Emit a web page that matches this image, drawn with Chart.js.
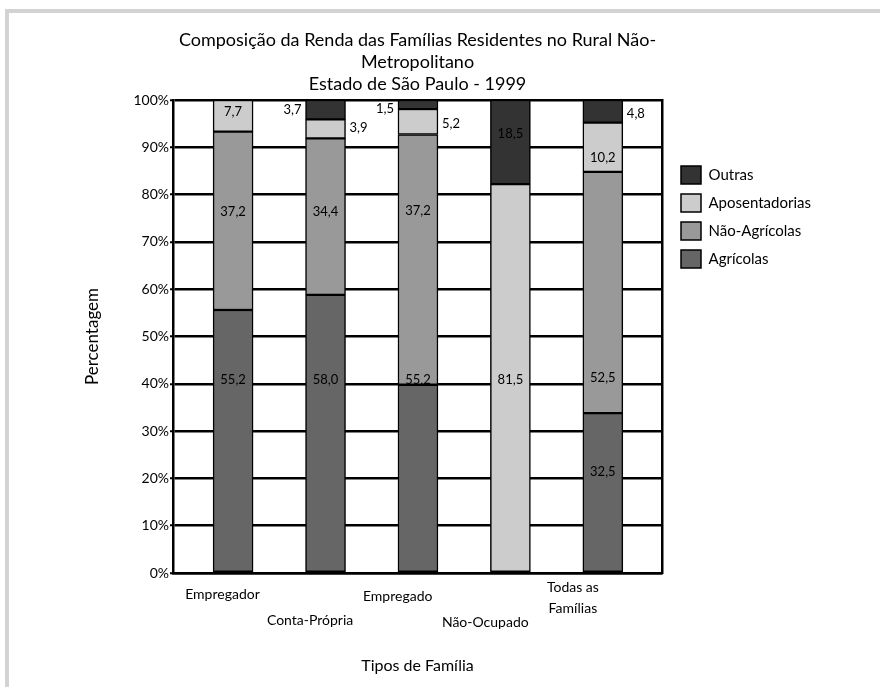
<!DOCTYPE html>
<html><head><meta charset="utf-8">
<script src="https://cdn.jsdelivr.net/npm/chart.js@4.4.1/dist/chart.umd.min.js"></script>
<style>
html,body{margin:0;padding:0;background:#fff;}
#wrap{position:relative;width:880px;height:687px;overflow:hidden;}
#frame{position:absolute;left:5px;top:9px;width:900px;height:700px;border-top:4px solid #d3d3d3;border-left:4px solid #d3d3d3;}
#box{position:absolute;left:0;top:0;width:880px;height:687px;}
</style></head><body>
<div id="wrap"><div id="frame"></div><div id="box"><canvas id="c"></canvas></div></div>
<script>
// ---- data ----
const categories = ['Empregador', 'Conta-Própria', 'Empregado', 'Não-Ocupado', ['Todas as', 'Famílias']];
const seriesNames = ['Agrícolas', 'Não-Agrícolas', 'Aposentadorias', 'Outras'];
// drawn segment heights (%)
const agricolas      = [55.6, 58.8, 39.8, 0,    33.8];
const naoAgricolas   = [37.7, 33.1, 52.9, 0,    51.0];
const aposentadorias = [6.7,  4.0,  5.4,  82.2, 10.4];
const outras         = [0,    4.1,  1.9,  17.8, 4.8];
// printed value labels
const textAgricolas      = ['55,2', '58,0', '55,2', '',     '32,5'];
const textNaoAgricolas   = ['37,2', '34,4', '37,2', '',     '52,5'];
const textAposentadorias = ['7,7',  '3,9',  '5,2',  '81,5', '10,2'];
const textOutras         = ['',     '3,7',  '1,5',  '18,5', '4,8'];
const yTicks = [0, 10, 20, 30, 40, 50, 60, 70, 80, 90, 100];

// ---- label placement (value-axis anchor, side of bar) ----
const labelPlacement = [
  [[40.8,'c'], [40.8,'c'], [40.8,'c'], null, [21.4,'c']],
  [[76.3,'c'], [76.3,'c'], [76.5,'c'], null, [41.2,'c']],
  [[97.5,'c'], [94.1,'r'], [94.9,'r'], [40.8,'c'], [87.7,'c']],
  [null, [97.9,'l'], [98.1,'l'], [92.8,'c'], [97.0,'r']]
];
const colors = ['#666666', '#999999', '#cccccc', '#333333'];
const seriesValues = [agricolas, naoAgricolas, aposentadorias, outras];
const seriesTexts = [textAgricolas, textNaoAgricolas, textAposentadorias, textOutras];

Chart.defaults.font.family = 'Lato, "Open Sans", sans-serif';
Chart.defaults.color = '#000';

const segLabels = {
  id: 'segLabels',
  afterDatasetsDraw(chart) {
    const ctx = chart.ctx, ys = chart.scales.y;
    ctx.save();
    ctx.font = '13px Lato';
    ctx.fillStyle = '#000';
    ctx.textBaseline = 'middle';
    chart.data.datasets.forEach((ds, di) => {
      const meta = chart.getDatasetMeta(di);
      ds.segText.forEach((t, i) => {
        const p = labelPlacement[di][i];
        if (!t || !p) return;
        const bar = meta.data[i];
        const half = bar.width / 2;
        const py = ys.getPixelForValue(p[0]);
        if (p[1] === 'l') { ctx.textAlign = 'right'; ctx.fillText(t, bar.x - half - 4, py); }
        else if (p[1] === 'r') { ctx.textAlign = 'left'; ctx.fillText(t, bar.x + half + 4, py); }
        else { ctx.textAlign = 'center'; ctx.fillText(t, bar.x, py); }
      });
    });
    ctx.restore();
  }
};

const legendPlace = {
  id: 'legendPlace',
  afterLayout(chart) {
    const lg = chart.legend;
    if (!lg) return;
    const dx = 671 - lg.left, dy = 156 - lg.top;
    lg.left += dx; lg.right += dx; lg.top += dy; lg.bottom += dy;
  }
};

const tickLineHeights = [35, 87, 39, 91, 21];

new Chart(document.getElementById('c'), {
  type: 'bar',
  data: {
    datasets: seriesNames.map((name, di) => ({
      label: name,
      data: seriesValues[di].map((v, i) => ({ x: i, y: v })),
      segText: seriesTexts[di],
      backgroundColor: colors[di],
      borderColor: '#000',
      borderWidth: 1.5,
      borderSkipped: false,
      barThickness: 40,
      xAxisID: 'x',
      yAxisID: 'y'
    }))
  },
  options: {
    responsive: true,
    maintainAspectRatio: false,
    animation: false,
    layout: { padding: { top: 29, left: 0, right: 218, bottom: 0 } },
    plugins: {
      tooltip: { enabled: false },
      title: {
        display: true,
        fullSize: false,
        text: ['Composição da Renda das Famílias Residentes no Rural Não-', 'Metropolitano', 'Estado de São Paulo - 1999'],
        color: '#000',
        font: { size: 18, weight: 'normal', lineHeight: '22px' },
        padding: { top: 0, bottom: 5 }
      },
      legend: {
        position: 'chartArea',
        align: 'start',
        reverse: true,
        labels: {
          boxWidth: 20, boxHeight: 18, padding: 10,
          color: '#000',
          font: { size: 15 }
        }
      }
    },
    scales: {
      x: {
        type: 'linear', stacked: true, offset: false,
        min: -0.65, max: 4.64,
        grid: { display: false },
        ticks: { display: false },
        border: { display: true, color: '#000', width: 2.5 },
        afterFit(s) { s.height = 0; }
      },
      xl: {
        type: 'linear', position: 'bottom', offset: false,
        min: -0.565, max: 5.017,
        grid: { display: false, drawTicks: false },
        border: { display: false },
        afterBuildTicks(s) { s.ticks = categories.map((c, i) => ({ value: i })); },
        ticks: {
          padding: 3.5,
          maxRotation: 0, autoSkip: false,
          callback: (v) => categories[v],
          font: (ctx) => ({ size: 14, lineHeight: (tickLineHeights[ctx.index] || 21) + 'px' })
        },
        title: {
          display: true, text: 'Tipos de Família',
          font: { size: 16 }, padding: { top: 0, bottom: 12 }
        },
        afterFit(s) { s.height = 114; }
      },
      y: {
        type: 'linear', stacked: true, min: 0, max: 100,
        afterBuildTicks(s) { s.ticks = yTicks.map(v => ({ value: v })); },
        ticks: { callback: (v) => v + '%', font: { size: 14 }, padding: 1 },
        grid: { color: '#000', lineWidth: 2.5, tickLength: 3, tickColor: '#000', tickWidth: 2 },
        border: { color: '#000', width: 2.5 },
        title: { display: true, text: 'Percentagem', font: { size: 17 }, padding: { top: 82, bottom: 0 } },
        afterFit(s) { s.width = 173; }
      },
      y2: {
        type: 'linear', position: 'right',
        grid: { display: false },
        ticks: { display: false },
        border: { display: true, color: '#000', width: 2.5 },
        afterFit(s) { s.width = 0; }
      }
    }
  },
  plugins: [segLabels, legendPlace]
});
</script>
</body></html>
